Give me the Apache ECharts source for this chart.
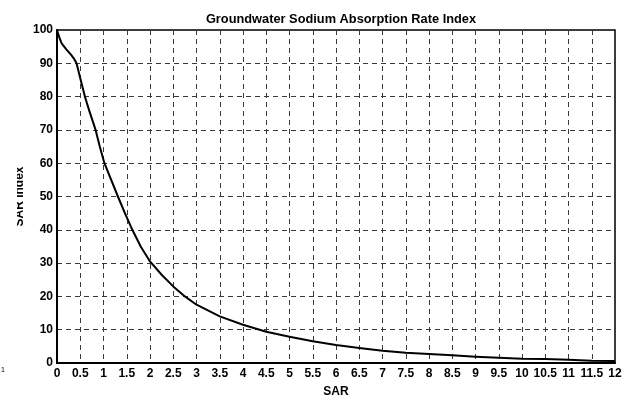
<!DOCTYPE html>
<html><head><meta charset="utf-8">
<script src="https://cdn.jsdelivr.net/npm/echarts@6/dist/echarts.min.js"></script>
<style>html,body{margin:0;padding:0;background:#fff}#c{width:634px;height:399px}</style>
</head><body><div id="c"></div>
<script>
var titleText = "Groundwater Sodium Absorption Rate Index";
var xName = "SAR";
var yName = "SAR Index";
var sarValues = [0, 0.05, 0.1, 0.2, 0.3, 0.36, 0.42, 0.5, 0.6, 0.7, 0.83, 0.92, 1.02, 1.15, 1.31, 1.46, 1.62, 1.8, 2.0, 2.25, 2.5, 2.75, 3.0, 3.5, 4.0, 4.5, 5.0, 5.5, 6.0, 6.5, 7.0, 7.5, 8.0, 8.5, 9.0, 9.5, 10.0, 10.5, 11.0, 11.5, 12.0];
var indexValues = [100, 97.8, 96, 94.2, 92.6, 91.5, 90, 85.5, 80, 75.5, 70, 65, 60, 55.5, 50, 45, 40, 35, 30.5, 26.5, 23, 20, 17.5, 14, 11.5, 9.4, 7.9, 6.5, 5.4, 4.5, 3.7, 3.1, 2.7, 2.3, 1.9, 1.6, 1.3, 1.2, 1.0, 0.7, 0.6];

var chart = echarts.init(document.getElementById('c'), null, {renderer: 'canvas'});
var font = '"Liberation Sans", Arial, sans-serif';
var pts = sarValues.map(function (x, i) { return [x, indexValues[i]]; });
chart.setOption({
  animation: false,
  backgroundColor: '#fff',
  title: {
    text: titleText, left: 336, top: 8, textAlign: 'center',
    textStyle: {fontFamily: font, fontWeight: 'bold', fontSize: 12.8, color: '#000'}
  },
  grid: {left: 57, right: 19, top: 30, bottom: 36, outerBoundsMode: 'none', containLabel: false,
    show: true, borderColor: '#000', borderWidth: 1.5, backgroundColor: 'transparent'},
  xAxis: {
    type: 'value', min: 0, max: 12, interval: 0.5,
    name: xName, nameLocation: 'middle', nameGap: 23, nameMoveOverlap: false,
    nameTextStyle: {fontFamily: font, fontWeight: 'bold', fontSize: 12, color: '#000'},
    axisLine: {show: true, lineStyle: {color: '#000', width: 2}},
    axisTick: {show: false},
    axisLabel: {fontFamily: font, fontWeight: 'bold', fontSize: 12, color: '#000', margin: 5},
    splitLine: {show: true, lineStyle: {color: '#3a3a3a', type: [5, 4], width: 1}}
  },
  yAxis: {
    type: 'value', min: 0, max: 100, interval: 10,
    name: yName, nameLocation: 'middle', nameGap: 31, nameMoveOverlap: false,
    nameTextStyle: {fontFamily: font, fontWeight: 'bold', fontSize: 12, color: '#000'},
    axisLine: {show: true, lineStyle: {color: '#000', width: 2}},
    axisTick: {show: false},
    axisLabel: {fontFamily: font, fontWeight: 'bold', fontSize: 12, color: '#000', margin: 4},
    splitLine: {show: true, lineStyle: {color: '#3a3a3a', type: [5, 4], width: 1}}
  },
  graphic: [
    {type: 'rect', left: 0, top: 150, shape: {width: 17, height: 100}, style: {fill: '#fff'}, z: 100},
    {type: 'text', left: 1, top: 367, style: {text: '1', fontSize: 7, fontFamily: font, fill: '#000'}, z: 100}
  ],
  series: [{
    type: 'line', data: pts, showSymbol: false, smooth: false,
    lineStyle: {color: '#000', width: 2, join: 'round'}
  }]
});
</script></body></html>
